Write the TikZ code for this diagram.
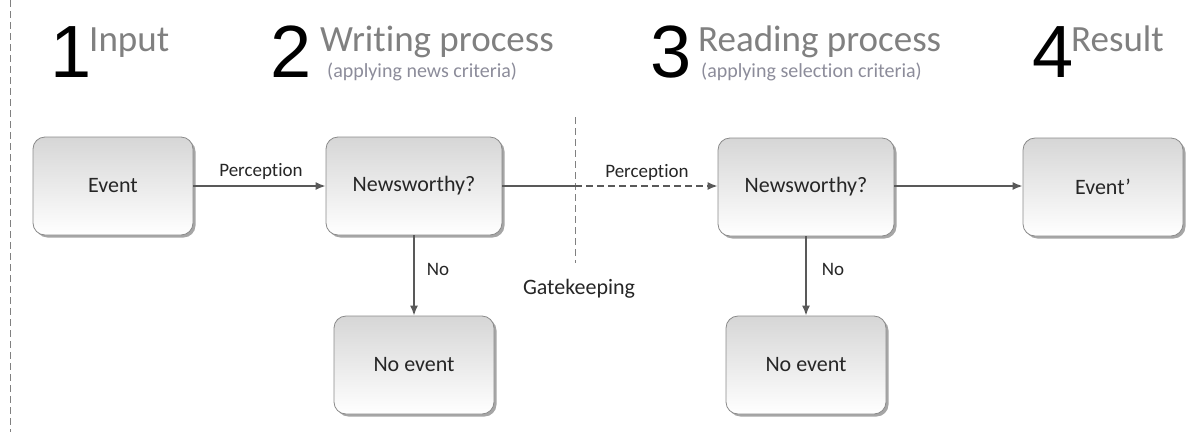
\documentclass[tikz,border=0pt]{standalone}
\usepackage{fontspec}
\setmainfont{Carlito}[Ligatures=NoCommon]
\newfontfamily\numfont{Liberation Sans}
\usetikzlibrary{arrows.meta,shadows}
\definecolor{boxtext}{HTML}{262626}
\definecolor{headgray}{HTML}{808080}
\definecolor{subgray}{HTML}{8C8C9A}
\definecolor{linegray}{HTML}{595959}
\definecolor{boxborder}{HTML}{8A8A8A}
\definecolor{boxtop}{HTML}{D6D6D6}
\tikzset{
  box/.style={draw=boxborder, line width=0.8pt, rounded corners=12pt,
    top color=boxtop, bottom color=white, minimum width=160pt, minimum height=98pt,
    inner sep=0pt, font=\fontsize{22}{26}\selectfont, text=boxtext,
    drop shadow={shadow xshift=2.5pt, shadow yshift=-2.5pt, opacity=0.35, fill=black}},
  conn/.style={draw=linegray, line width=1.6pt, -{Latex[length=10pt,width=8pt]}},
  plainconn/.style={draw=linegray, line width=1.6pt},
  lbl/.style={font=\fontsize{19}{22}\selectfont, text=boxtext, inner sep=0pt},
  bignum/.style={font=\numfont\fontsize{74}{84}\selectfont, text=black, anchor=base west, inner sep=0pt},
  headtxt/.style={font=\fontsize{37}{42}\selectfont, text=headgray, anchor=base west, inner sep=0pt},
  subtxt/.style={font=\fontsize{20}{24}\selectfont, text=subgray, anchor=base west, inner sep=0pt},
  guide/.style={draw=headgray, line width=0.8pt, dash pattern=on 7pt off 4pt}
}
\begin{document}
\begin{tikzpicture}[x=1pt,y=-1pt]
\useasboundingbox (0,0) rectangle (1203,432);
% left guide line
\coordinate (lt) at (10,0);
\coordinate (lb) at (10,432);
\draw[guide] (lt) -- (lb);
% headers
\node[bignum] (n1) at (50,77) {1};
\node[headtxt] (h1) at (89,51) {Input};
\node[bignum] (n2) at (270,77) {2};
\node[headtxt] (h2) at (320,51) {Writing process};
\node[subtxt] (s2) at (327,77) {(applying news criteria)};
\node[bignum] (n3) at (650,77) {3};
\node[headtxt] (h3) at (698,51) {Reading process};
\node[subtxt] (s3) at (701,77) {(applying selection criteria)};
\node[bignum] (n4) at (1032,77) {4};
\node[headtxt] (h4) at (1071,51) {Result};
% boxes
\node[box] (ev) at (113,186) {Event};
\node[box, minimum width=176pt] (nw1) at (414,186) {Newsworthy?};
\node[box] (ne1) at (414,365) {No event};
\node[box, minimum width=176pt] (nw2) at (806,187) {Newsworthy?};
\node[box] (ne2) at (806,365) {No event};
\node[box] (evp) at (1103,187) {Event’};
% gatekeeping
\coordinate (gt) at (575,117);
\coordinate (gb) at (575,263);
\draw[guide] (gt) -- (gb);
\node[font=\fontsize{22}{26}\selectfont, text=boxtext] (gk) at (579,289) {Gatekeeping};
\coordinate (gm) at (575,186);
% connectors
\draw[conn] (ev.east |- 0,186) -- (nw1.west |- 0,186);
\node[lbl] (p1) at (261,171) {Perception};
\draw[plainconn] (nw1.east |- 0,186) -- (gm);
\draw[conn, dash pattern=on 7pt off 4pt] (gm) -- (nw2.west |- 0,186);
\node[lbl] (p2) at (647,172) {Perception};
\draw[conn] (nw1) -- (ne1);
\node[lbl] (no1) at (438,269) {No};
\draw[conn] (nw2) -- (ne2);
\node[lbl] (no2) at (833,269) {No};
\draw[conn] (nw2.east |- 0,186) -- (evp.west |- 0,186);
\end{tikzpicture}
\end{document}
